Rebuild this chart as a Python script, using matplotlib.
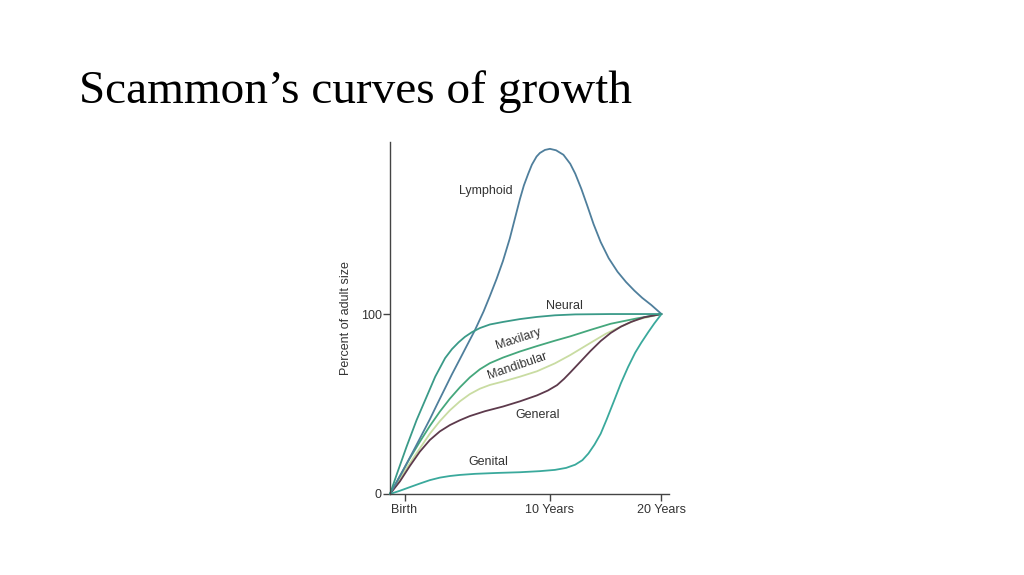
import numpy as np
import matplotlib
matplotlib.use("Agg")
import matplotlib.pyplot as plt

# ---- data (age in years, percent of adult size) ----
neural_age = [-1, -0.51, 0.14, 0.83, 1.42, 2.11, 2.79, 3.26, 3.72, 4.15, 4.63, 5.18, 5.87,
              6.77, 7.94, 9.11, 10.45, 12.27, 15.45, 20]
neural_pct = [0, 11.5, 26.3, 41.1, 52.2, 65.2, 75.5, 80.5, 84.3, 87.3, 89.9, 92.2, 94.2,
              95.6, 97.2, 98.4, 99.3, 99.8, 100, 100]

lymph_age = [-1, -0.21, 0.71, 1.74, 2.22, 2.77, 3.26, 3.81, 4.29, 4.84, 5.44, 5.87, 6.33, 6.77,
             7.24, 7.59, 7.94, 8.21, 8.51, 8.76, 9.08, 9.31, 9.66, 10.0, 10.55, 11.21, 11.82,
             12.27, 12.82, 13.36, 13.91, 14.55, 15.27, 16.06, 16.82, 17.57, 18.27, 19.09, 20]
lymph_pct = [0, 11.5, 25.5, 41.5, 49.5, 58.5, 66.5, 75, 82.5, 91, 101.5, 110, 119.5, 129.5,
             142, 153, 164, 171.5, 178, 183, 187.5, 189.5, 191.2, 191.8, 191, 188.5, 183.5,
             178, 169.5, 160, 150, 140, 131, 123.5, 117.8, 113, 109, 105, 100]

maxil_age = [-1, -0.32, 0.36, 1.05, 1.74, 2.43, 3.12, 3.81, 4.49, 5.18, 5.87, 6.77, 7.94,
             9.11, 10.45, 11.82, 13.64, 15.45, 17.73, 20]
maxil_pct = [0, 10, 19.8, 29, 37.8, 45.8, 53, 59.3, 64.8, 69.3, 72.7, 75.8, 79.2,
             82.2, 85.2, 87.6, 91.2, 94.6, 97.5, 100]

mandi_age = [-1, -0.32, 0.36, 1.05, 1.74, 2.43, 3.12, 3.81, 4.49, 5.18, 5.87, 6.77, 7.94,
             9.11, 10.45, 11.82, 13.64, 15.0, 16.36, 17.73, 20]
mandi_pct = [0, 8.5, 17, 25.3, 33.5, 40.5, 46.5, 51.5, 55.5, 58.5, 60.6, 62.5, 65.2,
             68.2, 72.6, 77.2, 84, 89, 93, 96.8, 100]

gener_age = [-1, -0.32, 0.36, 1.05, 1.74, 2.43, 3.12, 3.81, 4.49, 5.53, 6.77, 7.94, 9.11,
             9.86, 10.64, 11.27, 11.82, 12.73, 13.64, 14.55, 15.45, 16.36, 17.27, 18.45, 20]
gener_pct = [0, 7, 15.5, 23.5, 30, 34.8, 38.3, 41, 43.3, 46, 48.6, 51.5, 54.8,
             57.5, 60.5, 64, 67.5, 73.5, 79.5, 85, 89.5, 93, 95.6, 98.2, 100]

genit_age = [-1, -0.32, 0.36, 1.05, 1.74, 2.43, 3.12, 3.81, 4.84, 6.35, 7.94, 9.31, 10.45,
             11.45, 12.27, 12.91, 13.45, 14.0, 14.55, 15.09, 15.73, 16.36, 17.0, 17.64, 18.18,
             18.82, 19.36, 20]
genit_pct = [0, 1.8, 3.8, 5.8, 7.7, 9.1, 10, 10.6, 11.2, 11.7, 12.1, 12.7, 13.4,
             14.5, 16.3, 18.8, 22.5, 27.5, 33.5, 41.5, 51.5, 61.5, 70.5, 78.5, 84,
             90, 94.8, 100]

tick_ages = [0, 10, 20]
tick_labels = ["Birth", "10 Years", "20 Years"]
ytick_vals = [0, 100]

labels = ["Lymphoid", "Neural", "Maxilary", "Mandibular", "General", "Genital"]

# ---- styling ----
colors = {
    "Lymphoid": "#4f7f9c",
    "Neural": "#3a9a88",
    "Maxilary": "#45a77c",
    "Mandibular": "#c9dca2",
    "General": "#5d3a4c",
    "Genital": "#3aa99c",
}
label_pos = {
    "Lymphoid": (5.6, 168.3, 0),
    "Neural": (11.26, 104.4, 0),
    "Maxilary": (7.8, 86.0, 18),
    "Mandibular": (7.75, 71.1, 19),
    "General": (9.18, 43.9, 0),
    "Genital": (5.73, 17.8, 0),
}

fig = plt.figure(figsize=(10.24, 5.75), dpi=100)
fig.patch.set_facecolor("white")

fig.text(79 / 1024, 1 - 103 / 575, "Scammon\u2019s curves of growth",
         fontfamily="Liberation Serif", fontsize=34, color="black",
         ha="left", va="baseline")

ax = fig.add_axes([390 / 1024, (575 - 494) / 575, 279.3 / 1024, 352 / 575])

r = 11.15 / 14.53
def fwd(a):
    a = np.asarray(a, dtype=float)
    return np.where(a <= 10, a, 10 + (a - 10) * r)
def inv(u):
    u = np.asarray(u, dtype=float)
    return np.where(u <= 10, u, 10 + (u - 10) / r)
ax.set_xscale("function", functions=(fwd, inv))

series = {
    "Lymphoid": (lymph_age, lymph_pct),
    "Neural": (neural_age, neural_pct),
    "Maxilary": (maxil_age, maxil_pct),
    "Mandibular": (mandi_age, mandi_pct),
    "General": (gener_age, gener_pct),
    "Genital": (genit_age, genit_pct),
}
for name in ["Mandibular", "Maxilary", "General", "Genital", "Lymphoid", "Neural"]:
    xa, ya = series[name]
    ax.plot(xa, ya, color=colors[name], lw=1.3, solid_joinstyle="round",
            solid_capstyle="round", clip_on=False)

for name in labels:
    x, y, rot = label_pos[name]
    ax.text(x, y, name, fontsize=9, fontfamily="Liberation Sans", color="#333333",
            ha="center", va="center", rotation=rot, rotation_mode="anchor")

ax.set_xlim(-1, 20.7)
ax.set_ylim(0, 195.6)
for s in ["top", "right"]:
    ax.spines[s].set_visible(False)
for s in ["left", "bottom"]:
    ax.spines[s].set_color("#444444")
    ax.spines[s].set_linewidth(1.0)

ax.set_xticks(tick_ages)
ax.set_xticklabels(tick_labels)
ax.set_yticks(ytick_vals)
ax.tick_params(axis="both", direction="out", length=5, width=1.0, color="#444444",
               labelsize=9, labelcolor="#333333")
ax.tick_params(axis="x", pad=2)
ax.tick_params(axis="y", pad=1)
for lab in ax.get_xticklabels() + ax.get_yticklabels():
    lab.set_fontfamily("Liberation Sans")

ax.set_ylabel("Percent of adult size", fontsize=9, fontfamily="Liberation Sans",
              color="#333333")
ax.yaxis.set_label_coords(-38 / 279.3, 0.5)

fig.savefig("out.png", dpi=100, facecolor="white")
